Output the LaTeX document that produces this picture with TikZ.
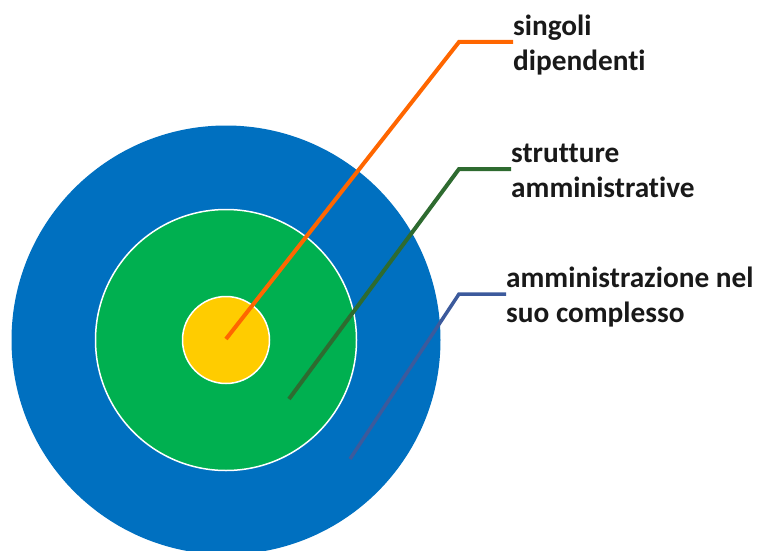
\documentclass[tikz,border=0pt]{standalone}
\usepackage{fontspec}
\setmainfont{Carlito}[Ligatures={NoCommon}]
\usepackage{tikz}

\definecolor{outerblue}{HTML}{0070C0}
\definecolor{midgreen}{HTML}{00B050}
\definecolor{coreyellow}{HTML}{FFCC00}
\definecolor{leadorange}{HTML}{FF6600}
\definecolor{leadgreen}{HTML}{2E6B30}
\definecolor{leadblue}{HTML}{3C5A9C}

\begin{document}
\begin{tikzpicture}[x=1pt, y=-1pt,
  ring/.style = {circle, draw=white, line width=1.5pt, inner sep=0pt},
  tag/.style = {anchor=west, align=left, inner sep=0pt, text=black!90,
    font=\bfseries\fontsize{29.3}{35}\selectfont},
  lead/.style = {line width=4pt}]

\useasboundingbox (0,0) rectangle (758,551);

\node[ring, fill=outerblue, draw=none, minimum size=429pt] (outer) at (226,340) {};
\node[ring, fill=midgreen, minimum size=261pt] (middle) at (226,340) {};
\node[ring, fill=coreyellow, minimum size=87pt] (core) at (226,340) {};

\node[tag] (t1) at (513,45) {singoli\\dipendenti};
\node[tag] (t2) at (511,171) {strutture\\amministrative};
\node[tag] (t3) at (506,297) {amministrazione nel\\suo complesso};

\coordinate (p1) at (226,339);
\coordinate (p2) at (289,399);
\coordinate (p3) at (350,459);
\coordinate (k1) at (459,42);
\coordinate (k2) at (459,169);
\coordinate (k3) at (459,294);

\draw[lead, leadorange] (p1) -- (k1) -- (k1 -| t1.west);
\draw[lead, leadgreen] (p2) -- (k2) -- (k2 -| t2.west);
\draw[lead, leadblue, line width=3.5pt] (p3) -- (k3) -- (k3 -| t3.west);

\end{tikzpicture}
\end{document}
